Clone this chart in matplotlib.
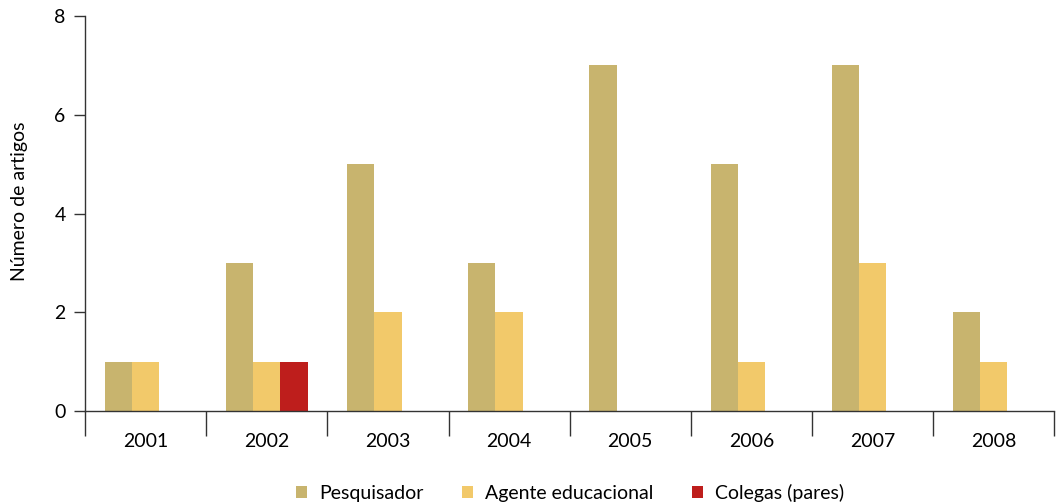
import matplotlib
matplotlib.use("Agg")
import matplotlib.pyplot as plt
import numpy as np

anos = ["2001", "2002", "2003", "2004", "2005", "2006", "2007", "2008"]
pesquisador = [1, 3, 5, 3, 7, 5, 7, 2]
agente = [1, 1, 2, 2, 0, 1, 3, 1]
colegas = [0, 1, 0, 0, 0, 0, 0, 0]
series = ["Pesquisador", "Agente educacional", "Colegas (pares)"]
cores = ["#C8B46E", "#F2C96A", "#BE1E1C"]

plt.rcParams['font.family'] = ['Lato', 'DejaVu Sans']

fig = plt.figure(figsize=(10.56, 5.04), dpi=100)
ax = fig.add_axes([0.0805, 0.1845, 0.918, 0.7835])

x = np.arange(len(anos))
w = 0.225
for i, (vals, cor) in enumerate(zip([pesquisador, agente, colegas], cores)):
    ax.bar(x + (i - 1) * w, vals, w, color=cor, label=series[i], zorder=2)

ax.set_xlim(-0.5, len(anos) - 0.5)
ax.set_ylim(0, 8)
ax.set_yticks([0, 2, 4, 6, 8])
ax.tick_params(axis='y', length=8, width=1, labelsize=14, color="#333333", pad=6)

# tick marks nas divisões entre categorias
ax.set_xticks(np.arange(-0.5, len(anos), 1.0))
ax.set_xticklabels([])
ax.set_xticks(x, minor=True)
ax.set_xticklabels(anos, minor=True, fontsize=14)
ax.tick_params(axis='x', which='major', length=18, width=1, color="#333333")
ax.tick_params(axis='x', which='minor', length=0, pad=16)

for s in ["top", "right"]:
    ax.spines[s].set_visible(False)
for s in ["left", "bottom"]:
    ax.spines[s].set_color("#333333")
    ax.spines[s].set_linewidth(1)

ax.set_ylabel("Número de artigos", fontsize=14)
ax.yaxis.set_label_coords(-0.059, 0.53)

fig.legend(loc="lower center", ncol=3, frameon=False, fontsize=14,
           bbox_to_anchor=(0.540, -0.03), handlelength=0.57, handleheight=0.57,
           columnspacing=2.0, handletextpad=0.6)

fig.savefig("out.png", dpi=100)
